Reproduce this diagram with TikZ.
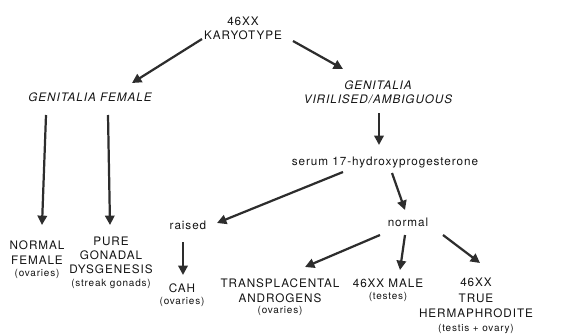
\documentclass[tikz,border=0pt]{standalone}
\usepackage{fontspec}
\setmainfont[LetterSpace=8]{TeX Gyre Heros}
\usepackage{xcolor}
\definecolor{ink}{RGB}{20,20,20}
\definecolor{agrey}{RGB}{45,45,45}
\newcommand{\sm}{\fontsize{8.5}{10}\selectfont}
\usepackage{tikz}
\usetikzlibrary{arrows.meta,calc}

\begin{document}
\begin{tikzpicture}[
  x=0.03cm,y=-0.03cm,
  lbl/.style={inner sep=0pt,align=center,text=ink,font=\fontsize{10}{12}\selectfont},
  cat/.style={lbl,font=\fontsize{10}{12}\selectfont\itshape},
  leaf/.style={lbl,anchor=north},
  arrow/.style={-{Triangle[length=8pt,width=8pt]},line width=1.9pt,draw=agrey}
]
  \useasboundingbox (0,0) rectangle (565,335);

  % Top of the tree
  \node[lbl] (kary) at (243,28) {46XX\\KARYOTYPE};
  \node[cat] (fem) at (90,97) {GENITALIA FEMALE};
  \node[cat] (vir) at (378,92) {GENITALIA\\VIRILISED/AMBIGUOUS};
  \node[lbl] (serum) at (385,163) {serum 17-hydroxyprogesterone};
  \node[lbl] (raised) at (188,225) {raised};
  \node[lbl] (normal) at (408,222) {normal};

  % Outcomes
  \node[leaf] (nf) at (37,241) {NORMAL\\FEMALE\\[-1pt]{\sm(ovaries)}};
  \node[leaf] (pgd) at (111,237) {PURE\\GONADAL\\DYSGENESIS\\[-1pt]{\sm(streak gonads)}};
  \node[leaf] (cah) at (182,284) {CAH\\[-2pt]{\sm(ovaries)}};
  \node[leaf] (trans) at (280,279) {TRANSPLACENTAL\\ANDROGENS\\[-2pt]{\sm(ovaries)}};
  \node[leaf] (male) at (388,279) {46XX MALE\\[-2pt]{\sm(testes)}};
  \node[leaf] (herm) at (476,278) {46XX\\[1pt]TRUE\\[1pt]HERMAPHRODITE\\[0pt]{\sm(testis + ovary)}};

  % Arrows
  \draw[arrow] ($(kary)+(-41,11)$) -- ($(fem)+(42,-14)$);
  \draw[arrow] ($(kary)+(50,13)$) -- ($(vir)+(-35,-23)$);
  \draw[arrow] ($(fem)+(-44,18)$) -- ($(nf.north)+(5,-16)$);
  \draw[arrow] ($(fem)+(18,18)$) -- ($(pgd.north)+(-1,-12)$);
  \draw[arrow] ($(vir)+(1,21)$) -- ($(serum)+(-6,-18)$);
  \draw[arrow] ($(serum)+(-42,9)$) -- ($(raised)+(29,-2)$);
  \draw[arrow] ($(serum)+(7,10)$) -- ($(normal)+(-3,-12)$);
  \draw[arrow] ($(raised)+(-5,17)$) -- ($(cah.north)+(1,-9)$);
  \draw[arrow] ($(normal)+(-28,13)$) -- ($(trans.north)+(25,-12)$);
  \draw[arrow] ($(normal)+(-3,13)$) -- ($(male.north)+(12,-9)$);
  \draw[arrow] ($(normal)+(35,13)$) -- ($(herm.north)+(4,-15)$);
\end{tikzpicture}
\end{document}
